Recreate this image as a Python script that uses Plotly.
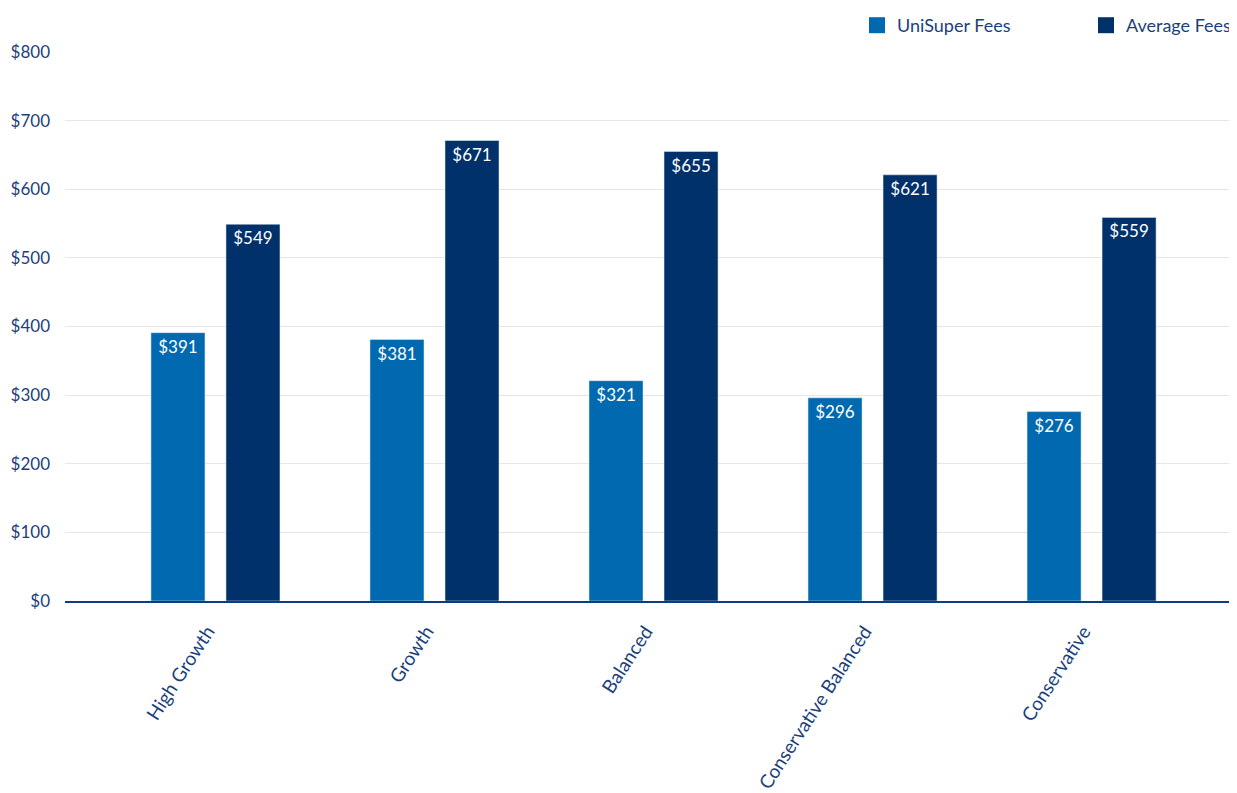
import plotly.graph_objects as go

categories = ["High Growth", "Growth", "Balanced", "Conservative Balanced", "Conservative"]
unisuper_fees = [391, 381, 321, 296, 276]
average_fees = [549, 671, 655, 621, 559]
y_ticks = [0, 100, 200, 300, 400, 500, 600, 700, 800]
y_tick_labels = ["$" + str(v) for v in y_ticks]

C_UNI = "#0069AF"
C_AVG = "#00316B"
TXT = "#1B3F7B"
FONT = "Source Sans Pro, Lato, Noto Sans, sans-serif"

fig = go.Figure()
fig.add_trace(go.Bar(
    x=categories, y=unisuper_fees, name="UniSuper Fees", marker_color=C_UNI,
    text=["$" + str(v) for v in unisuper_fees], textposition="inside", textangle=0,
    insidetextanchor="end", textfont=dict(color="white", size=17, family=FONT),
    showlegend=False, hoverinfo="skip",
))
fig.add_trace(go.Bar(
    x=categories, y=average_fees, name="Average Fees", marker_color=C_AVG,
    text=["$" + str(v) for v in average_fees], textposition="inside", textangle=0,
    insidetextanchor="end", textfont=dict(color="white", size=17, family=FONT),
    showlegend=False, hoverinfo="skip",
))
# legend proxies (square markers), each in its own legend box
fig.add_trace(go.Scatter(
    x=[None], y=[None], mode="markers", name="UniSuper Fees", legend="legend",
    marker=dict(symbol="square", size=18, color=C_UNI), showlegend=True,
))
fig.add_trace(go.Scatter(
    x=[None], y=[None], mode="markers", name="Average Fees", legend="legend2",
    marker=dict(symbol="square", size=18, color=C_AVG), showlegend=True,
))

leg_common = dict(
    orientation="h", yanchor="top", y=1 + 45 / 549,
    font=dict(size=18, color=TXT, family=FONT), bgcolor="rgba(0,0,0,0)",
)

# page body has an 8px margin, so the figure is sized to fit the window
fig.update_layout(
    width=1229, height=785,
    margin=dict(l=57, r=0, t=44, b=192, autoexpand=False),
    paper_bgcolor="white", plot_bgcolor="white",
    barmode="group", bargap=0.315, bargroupgap=0.28,
    font=dict(family=FONT, color=TXT, size=17),
    legend=dict(x=(857 - 65) / 1172, xanchor="left", **leg_common),
    legend2=dict(x=1, xanchor="right", **leg_common),
    xaxis=dict(
        type="category", range=[-0.687, 4.664], tickangle=-57, automargin=False,
        showgrid=False, showline=True, linecolor="#0B3D80", linewidth=2,
        ticks="", ticklabelstandoff=10, ticklabelshift=-8,
        tickfont=dict(size=19, color=TXT, family=FONT),
    ),
    yaxis=dict(
        range=[0, 800], tickvals=y_ticks, ticktext=y_tick_labels, automargin=False,
        showgrid=True, gridcolor="#E6E6E6", gridwidth=1, zeroline=False,
        showline=False, ticks="", ticklabelstandoff=14,
        tickfont=dict(size=17, color=TXT, family=FONT),
    ),
)

fig.write_html("out.html")
